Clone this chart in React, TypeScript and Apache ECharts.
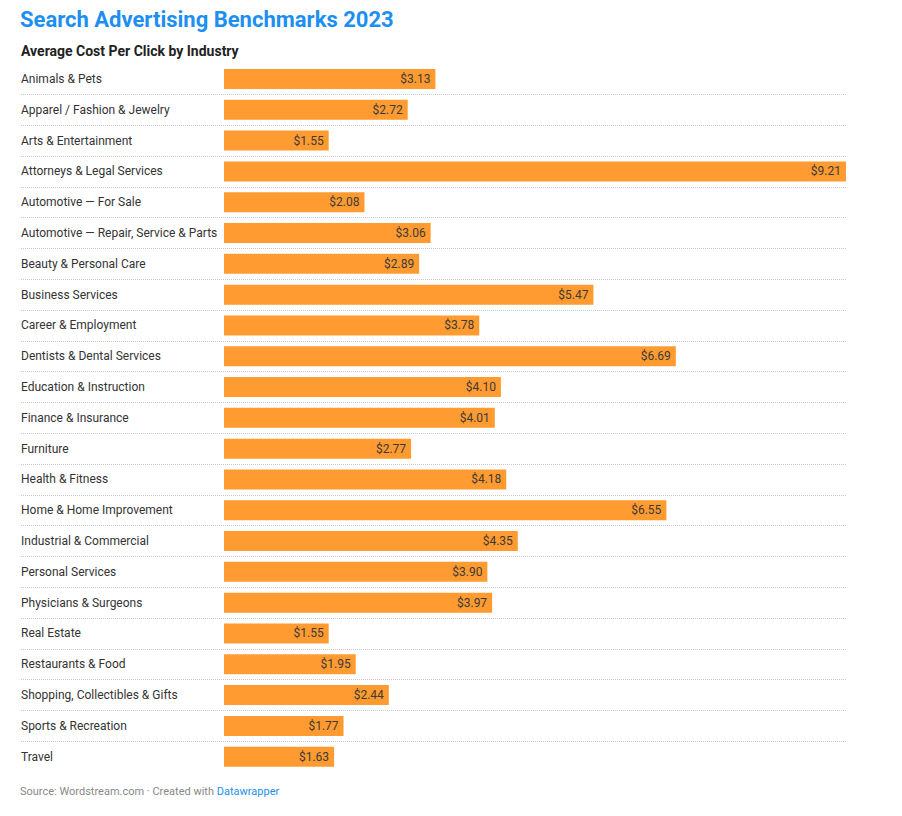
import React, { useEffect, useRef } from "react";
import * as echarts from "echarts";

const industries = [
  "Animals & Pets",
  "Apparel / Fashion & Jewelry",
  "Arts & Entertainment",
  "Attorneys & Legal Services",
  "Automotive — For Sale",
  "Automotive — Repair, Service & Parts",
  "Beauty & Personal Care",
  "Business Services",
  "Career & Employment",
  "Dentists & Dental Services",
  "Education & Instruction",
  "Finance & Insurance",
  "Furniture",
  "Health & Fitness",
  "Home & Home Improvement",
  "Industrial & Commercial",
  "Personal Services",
  "Physicians & Surgeons",
  "Real Estate",
  "Restaurants & Food",
  "Shopping, Collectibles & Gifts",
  "Sports & Recreation",
  "Travel",
];

const cpc = [
  3.13, 2.72, 1.55, 9.21, 2.08, 3.06, 2.89, 5.47, 3.78, 6.69, 4.1, 4.01, 2.77,
  4.18, 6.55, 4.35, 3.9, 3.97, 1.55, 1.95, 2.44, 1.77, 1.63,
];

const FONT = "Roboto, 'Noto Sans', sans-serif";

const App = () => {
  const chartRef = useRef<HTMLDivElement>(null);

  useEffect(() => {
    document.body.style.margin = "0";
    if (!chartRef.current) return;
    const chart = echarts.init(chartRef.current, null, { renderer: "svg" });

    const gridTop = 63.6;
    const gridBottom = 816 - 772.1;

    chart.setOption({
      animation: false,
      backgroundColor: "#ffffff",
      textStyle: { fontFamily: FONT },
      title: [
        {
          text: "Search Advertising Benchmarks 2023",
          left: 20,
          top: 8,
          padding: 0,
          textStyle: {
            fontFamily: FONT,
            fontSize: 22,
            fontWeight: "bold",
            color: "#1d8ff0",
          },
        },
        {
          text: "Average Cost Per Click by Industry",
          left: 21,
          top: 44,
          padding: 0,
          textStyle: {
            fontFamily: FONT,
            fontSize: 14,
            fontWeight: "bold",
            color: "#222222",
          },
        },
      ],
      grid: [
        { left: 224, right: 56, top: gridTop, bottom: gridBottom },
        { left: 21, right: 56, top: gridTop, bottom: gridBottom },
      ],
      xAxis: [
        { type: "value", gridIndex: 0, min: 0, max: "dataMax", show: false },
        { type: "value", gridIndex: 1, min: 0, max: 1, show: false },
      ],
      yAxis: [
        {
          type: "category",
          gridIndex: 0,
          data: industries,
          inverse: true,
          axisLine: { show: false },
          axisTick: { show: false },
          splitLine: { show: false },
          axisLabel: {
            align: "left",
            margin: 203,
            fontFamily: FONT,
            fontSize: 12,
            color: "#333333",
          },
        },
        {
          type: "category",
          gridIndex: 1,
          data: industries,
          inverse: true,
          axisLine: { show: false },
          axisTick: { show: false },
          axisLabel: { show: false },
          splitLine: {
            show: true,
            showMinLine: false,
            showMaxLine: false,
            lineStyle: { type: "dotted", color: "#c8c8c8", width: 1 },
          },
        },
      ],
      series: [
        {
          type: "bar",
          xAxisIndex: 0,
          yAxisIndex: 0,
          data: cpc,
          barWidth: 20,
          itemStyle: { color: "#ff9b30" },
          label: {
            show: true,
            position: "insideRight",
            distance: 5,
            fontFamily: FONT,
            fontSize: 12,
            color: "#3a3a3a",
            formatter: (p: any) => "$" + Number(p.value).toFixed(2),
          },
        },
      ],
      graphic: [
        {
          type: "text",
          left: 20,
          top: 786,
          style: {
            text: "{s|Source: Wordstream.com · Created with }{d|Datawrapper}",
            rich: {
              s: { fontFamily: FONT, fontSize: 11, fill: "#888888" },
              d: { fontFamily: FONT, fontSize: 11, fill: "#1d8ff0" },
            },
          },
        },
      ],
    });

    return () => {
      chart.dispose();
    };
  }, []);

  return <div ref={chartRef} style={{ width: 902, height: 816 }} />;
};

export default App;
